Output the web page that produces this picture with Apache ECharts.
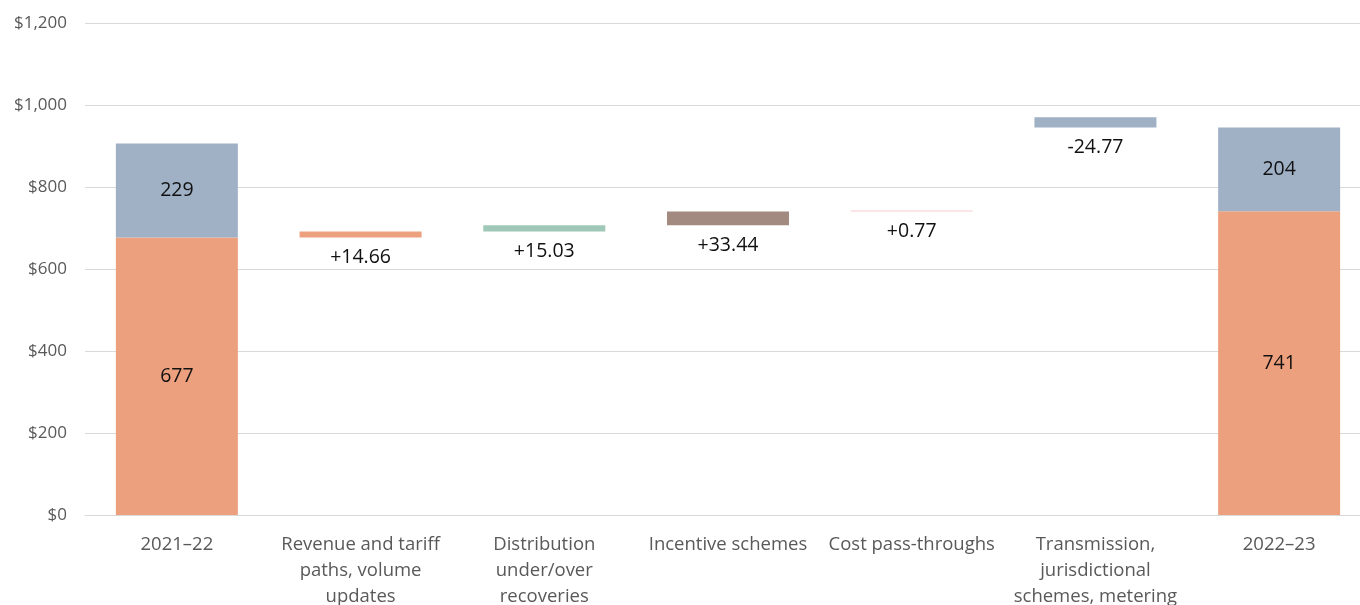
<!DOCTYPE html>
<html>
<head>
<meta charset="utf-8">
<script src="https://cdn.jsdelivr.net/npm/echarts@6/dist/echarts.min.js"></script>
<style>
html,body{margin:0;padding:0;background:#fff;}
#c{width:1360px;height:605px;}
</style>
</head>
<body>
<div id="c"></div>
<script>
const categories = ['2021–22', 'Revenue and tariff\npaths, volume\nupdates', 'Distribution\nunder/over\nrecoveries', 'Incentive schemes', 'Cost pass-throughs', 'Transmission,\njurisdictional\nschemes, metering', '2022–23'];
const startDistribution = 677;
const startTransmission = 229;
const endDistribution = 741;
const endTransmission = 204;
const changes = [14.66, 15.03, 33.44, 0.77, -24.77];
const changeLabels = ['+14.66', '+15.03', '+33.44', '+0.77', '-24.77'];
const yTicks = [0, 200, 400, 600, 800, 1000, 1200];

const C_ORANGE = '#EDA07D', C_BLUE = '#A0B1C6', C_GREEN = '#9FC8B8', C_BROWN = '#A28A80', C_PINK = '#F9C9D0';
const n = categories.length;
const blank = () => Array(n).fill('-');

// compute floating bases
const base = blank();
base[0] = 0; base[6] = 0;
let runD = startDistribution;
for (let i = 0; i < 4; i++) {
  base[i + 1] = changes[i] >= 0 ? runD : runD + changes[i];
  runD += changes[i];
}
const transTop = runD + startTransmission;
base[5] = changes[4] < 0 ? transTop + changes[4] : transTop;

const orange = blank(), blue = blank(), green = blank(), brown = blank(), pink = blank();
const inside = {show: true, position: 'inside', fontSize: 19.5, color: '#111', fontFamily: 'Open Sans'};
const below = (txt) => ({show: true, position: 'bottom', distance: 10, fontSize: 19.5, color: '#111', fontFamily: 'Open Sans', formatter: txt});
orange[0] = {value: startDistribution, label: inside};
orange[6] = {value: endDistribution, label: inside};
blue[0] = {value: startTransmission, label: inside};
blue[6] = {value: endTransmission, label: inside};
orange[1] = {value: Math.abs(changes[0]), label: below(changeLabels[0])};
green[2] = {value: Math.abs(changes[1]), label: below(changeLabels[1])};
brown[3] = {value: Math.abs(changes[2]), label: below(changeLabels[2])};
pink[4] = {value: Math.abs(changes[3]), label: below(changeLabels[3])};
blue[5] = {value: Math.abs(changes[4]), label: below(changeLabels[4])};

const mk = (name, data, color, extra) => Object.assign({
  name, type: 'bar', stack: 'w', data, barWidth: 122,
  itemStyle: {color}, emphasis: {disabled: true}, animation: false
}, extra || {});

const chart = echarts.init(document.getElementById('c'), null, {renderer: 'canvas'});
chart.setOption({
  animation: false,
  grid: {left: 85, top: 23, width: 1286, bottom: 90, containLabel: false, outerBoundsMode: 'none'},
  xAxis: {
    type: 'category', data: categories,
    axisLine: {lineStyle: {color: '#D9D9D9', width: 1}},
    axisTick: {show: false},
    axisLabel: {color: '#595959', fontSize: 18.5, fontFamily: 'Open Sans', lineHeight: 26, margin: 17, interval: 0}
  },
  yAxis: {
    type: 'value', min: yTicks[0], max: yTicks[yTicks.length - 1], interval: 200,
    axisLine: {show: false}, axisTick: {show: false},
    splitLine: {lineStyle: {color: '#D9D9D9', width: 1}},
    axisLabel: {color: '#595959', fontSize: 17, fontFamily: 'Open Sans', margin: 18,
      formatter: v => '$' + v.toLocaleString('en-US')}
  },
  series: [
    mk('base', base, 'rgba(0,0,0,0)', {silent: true}),
    mk('Distribution', orange, C_ORANGE),
    mk('Transmission', blue, C_BLUE),
    mk('Distribution under/over', green, C_GREEN),
    mk('Incentive', brown, C_BROWN),
    mk('Cost pass-through', pink, C_PINK, {barMinHeight: 1})
  ]
});
</script>
</body>
</html>
